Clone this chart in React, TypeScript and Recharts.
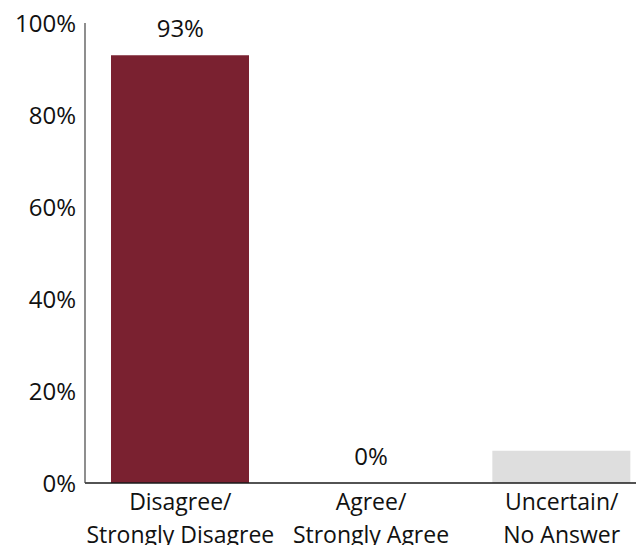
import { BarChart, Bar, XAxis, YAxis, Cell, ReferenceDot } from "recharts"

const categories = ["Disagree/\nStrongly Disagree", "Agree/\nStrongly Agree", "Uncertain/\nNo Answer"]
const values = [93, 0, 7]
const valueLabels = ["93%", "0%", ""]
const barColors = ["#7a2130", "#7a2130", "#dedede"]
const yTicks = [0, 20, 40, 60, 80, 100]

const FONT = "'Open Sans', sans-serif"

const data = categories.map((name, i) => ({
  name,
  value: values[i],
  label: valueLabels[i],
}))

function CategoryTick(props: any) {
  const { x, y, payload } = props
  const lines = String(payload.value).split("\n")
  return (
    <text x={x} y={y} textAnchor="middle" fontFamily={FONT} fontSize={23} fill="#111">
      {lines.map((line, i) => (
        <tspan key={i} x={x} dy={i === 0 ? 19 : 33}>
          {line}
        </tspan>
      ))}
    </text>
  )
}

// value labels go on reference dots so the zero bar gets one too
function dotLabel(text: string) {
  return (props: any) => {
    const vb = props.viewBox || {}
    const cx = Number(vb.x) + Number(vb.width || 0) / 2
    const cy = Number(vb.y) + Number(vb.height || 0) / 2
    return (
      <text x={cx} y={cy - 18} textAnchor="middle" fontFamily={FONT} fontSize={24} fill="#111">
        {text}
      </text>
    )
  }
}

export default function App() {
  return (
    <div style={{ width: 636, height: 537, overflow: "hidden" }}>
      <BarChart
        width={649}
        height={537}
        data={data}
        margin={{ top: 15, right: 0, bottom: 0, left: 0 }}
        barSize={138}
      >
        <XAxis
          dataKey="name"
          interval={0}
          tickLine={false}
          axisLine={{ stroke: "#1a1a1a", strokeWidth: 1.5 }}
          height={62}
          tick={<CategoryTick />}
        />
        <YAxis
          domain={[0, 100]}
          ticks={yTicks}
          width={77}
          tickLine={false}
          axisLine={{ stroke: "#444", strokeWidth: 1.2 }}
          tickFormatter={(v) => `${v}%`}
          tick={{ fontSize: 24, fill: "#111", fontFamily: FONT }}
          tickMargin={3}
        />
        <Bar dataKey="value" isAnimationActive={false}>
          {data.map((d, i) => (
            <Cell key={d.name} fill={barColors[i]} />
          ))}
        </Bar>
        {data
          .filter((d) => d.label)
          .map((d) => (
            <ReferenceDot
              key={d.name}
              x={d.name}
              y={d.value}
              r={0}
              fill="none"
              stroke="none"
              label={dotLabel(d.label)}
            />
          ))}
      </BarChart>
    </div>
  )
}
